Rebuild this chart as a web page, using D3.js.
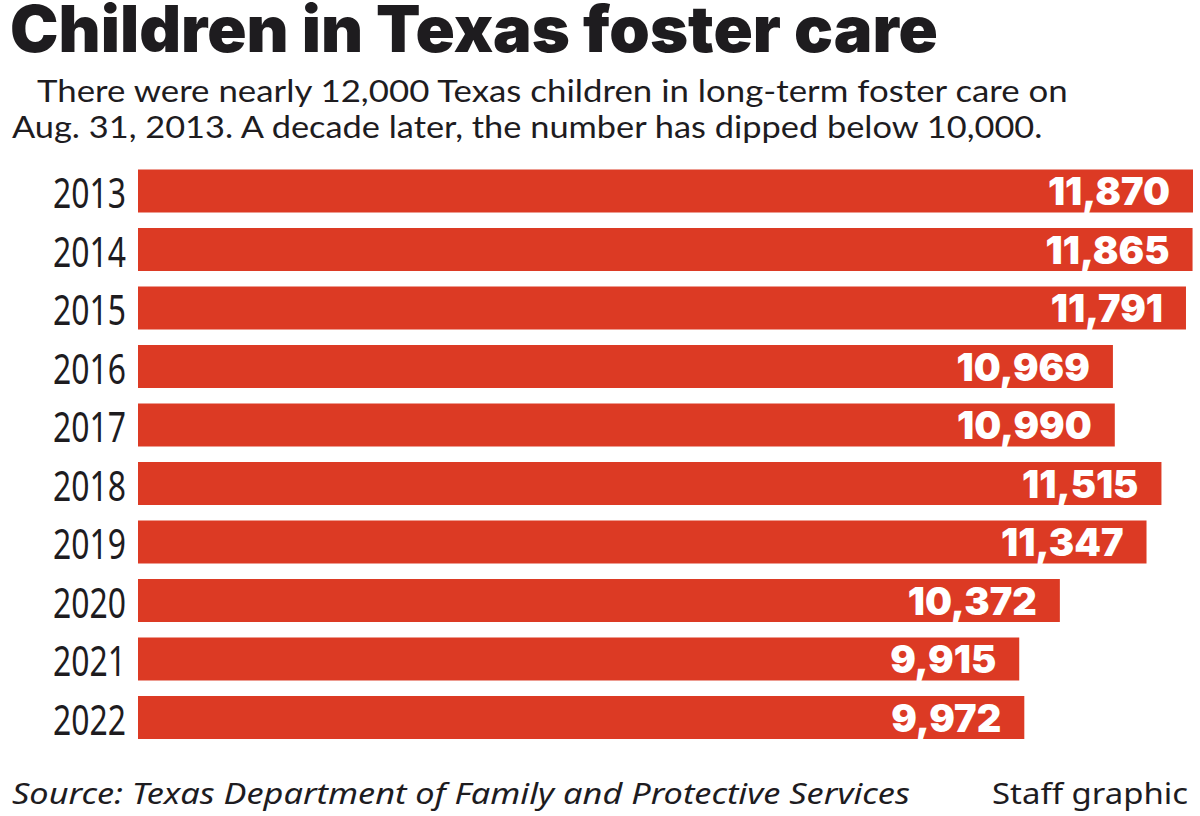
<!DOCTYPE html>
<html><head><meta charset="utf-8">
<script src="https://cdn.jsdelivr.net/npm/d3@7"></script>
<style>html,body{margin:0;padding:0;background:#fff;}</style>
</head><body>
<svg id="c" width="1200" height="816"></svg>
<script>
const years = ["2013","2014","2015","2016","2017","2018","2019","2020","2021","2022"];
const values = [11870,11865,11791,10969,10990,11515,11347,10372,9915,9972];
const title = "Children in Texas foster care";
const subtitle = ["There were nearly 12,000 Texas children in long-term foster care on",
                  "Aug. 31, 2013. A decade later, the number has dipped below 10,000."];
const source = "Source: Texas Department of Family and Protective Services";
const credit = "Staff graphic";

const svg = d3.select("#c");
const barColor = "#dc3a24";
const ink = "#1e1c1f";

function fitX(sel, target, anchorX) {
  const w = sel.node().getComputedTextLength();
  const s = target / w;
  sel.attr("transform", `translate(${anchorX},0) scale(${s},1) translate(${-anchorX},0)`);
  return s;
}

// Title
const t = svg.append("text").attr("x", 10).attr("y", 52)
  .attr("font-family", "Inter, Lato, sans-serif").attr("font-weight", 900)
  .attr("font-size", 64).attr("fill", ink).text(title);
fitX(t, 928, 10);

// Subtitle
const subX = [37, 12], subY = [102, 138], subW = [1031, 1031];
subtitle.forEach((s, i) => {
  const st = svg.append("text").attr("x", subX[i]).attr("y", subY[i])
    .attr("font-family", "Lato, sans-serif").attr("font-weight", 400)
    .attr("font-size", 30).attr("fill", ink).text(s);
  fitX(st, subW[i], subX[i]);
});

// Scales
const x = d3.scaleLinear().domain([0, 11870]).range([138, 1193]);
const y = d3.scaleBand().domain(years)
  .range([169.5, 169.5 + 58.5 * 10 - 15.5])
  .paddingInner(15.5 / 58.5).paddingOuter(0).align(0);

const g = svg.append("g");
g.selectAll("rect").data(years).join("rect")
  .attr("x", x(0)).attr("y", d => y(d))
  .attr("width", (d, i) => x(values[i]) - x(0))
  .attr("height", y.bandwidth()).attr("fill", barColor);

// Year labels
g.selectAll("text.yr").data(years).join("text").attr("class", "yr")
  .attr("x", 126).attr("y", d => y(d) + y.bandwidth() - 4)
  .attr("text-anchor", "end")
  .attr("font-family", "'Noto Sans', sans-serif").attr("font-size", 41)
  .attr("fill", ink).text(d => d)
  .each(function() { fitX(d3.select(this), 73, 126); });

// Value labels
const fmt = d3.format(",");
g.selectAll("text.val").data(years).join("text").attr("class", "val")
  .attr("x", (d, i) => x(values[i]) - 23)
  .attr("y", d => y(d) + y.bandwidth() / 2 + 14)
  .attr("text-anchor", "end")
  .attr("font-family", "Inter, 'Open Sans', sans-serif").attr("font-weight", 900)
  .attr("font-size", 38).attr("fill", "#fff")
  .text((d, i) => fmt(values[i]))
  .each(function(d, i) {
    const ax = x(values[i]) - 23;
    d3.select(this).attr("transform", `translate(${ax},0) scale(1.0,1) translate(${-ax},0)`);
  });

// Footer
const src = svg.append("text").attr("x", 12).attr("y", 804)
  .attr("font-family", "'Noto Sans', sans-serif").attr("font-style", "italic")
  .attr("font-size", 29).attr("fill", ink).text(source);
fitX(src, 898, 12);
const cr = svg.append("text").attr("x", 1188).attr("y", 804).attr("text-anchor", "end")
  .attr("font-family", "'Noto Sans', sans-serif")
  .attr("font-size", 29).attr("fill", ink).text(credit);
fitX(cr, 196, 1188);
</script>
</body></html>
